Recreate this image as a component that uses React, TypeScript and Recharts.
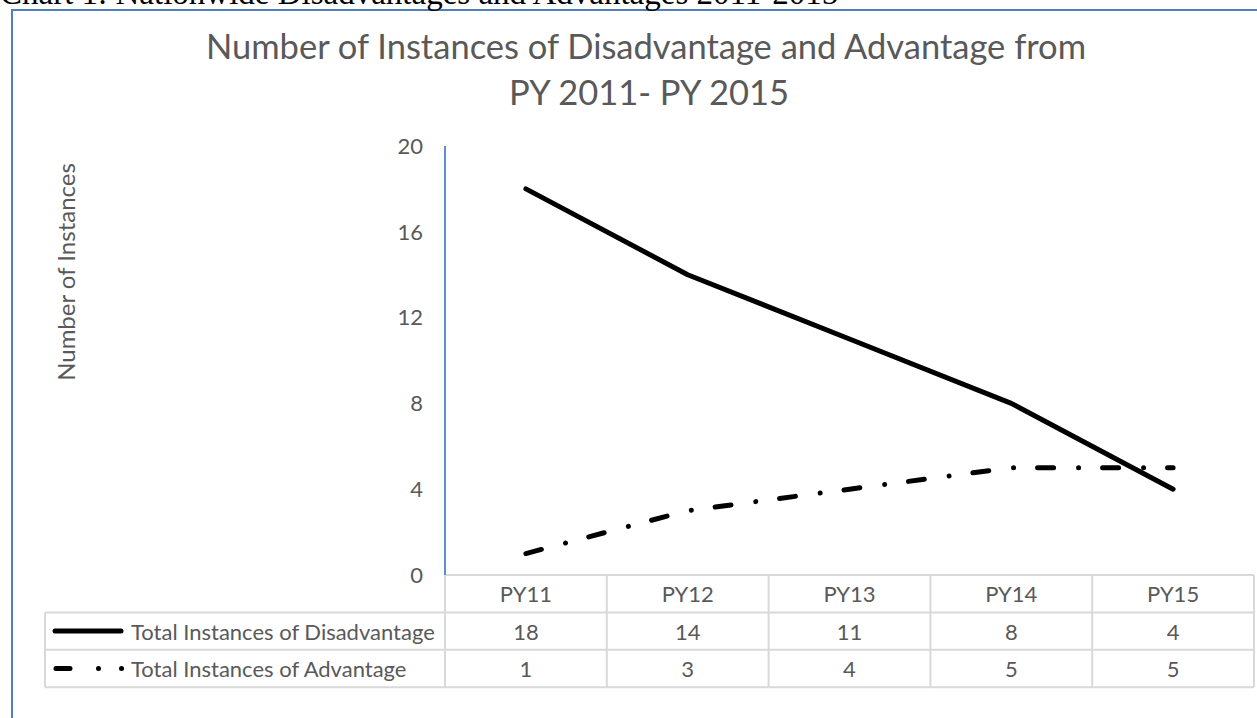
import { LineChart, Line, XAxis, YAxis } from "recharts";

const CATEGORIES = ["PY11", "PY12", "PY13", "PY14", "PY15"];
const DISADVANTAGE = [18, 14, 11, 8, 4];
const ADVANTAGE = [1, 3, 4, 5, 5];
const Y_TICKS = [0, 4, 8, 12, 16, 20];
const SERIES_NAMES = ["Total Instances of Disadvantage", "Total Instances of Advantage"];

const data = CATEGORIES.map((name, i) => ({
  name,
  dis: DISADVANTAGE[i],
  adv: ADVANTAGE[i],
}));

const W = 1257;
const H = 718;
const PLOT_LEFT = 445;
const PLOT_RIGHT = 1254;
const PLOT_TOP = 146;
const PLOT_BOTTOM = 575;
const Y_W = 80;
const BAND = (PLOT_RIGHT - PLOT_LEFT) / CATEGORIES.length;
const ROW_H = 37.4;
const TABLE_LEFT = 45;

const GRID = "#d9d9d9";
const INK = "#595959";
const FRAME = "#4f81bd";
const FONT = "Lato, 'Open Sans', sans-serif";
const ADV_DASH = "16 25 0.01 24";

function TableTick(props: any) {
  const { x, y, payload, index } = props;
  const left = x - BAND / 2;
  const right = x + BAND / 2;
  const values = [DISADVANTAGE[index], ADVANTAGE[index]];
  const textProps = {
    fill: INK,
    fontSize: 22,
    fontFamily: FONT,
    textAnchor: "middle" as const,
    dominantBaseline: "central" as const,
  };
  return (
    <g>
      {[1, 2, 3].map((r) => (
        <line key={r} x1={left} x2={right} y1={y + r * ROW_H} y2={y + r * ROW_H} stroke={GRID} strokeWidth={2} />
      ))}
      <line x1={right} x2={right} y1={y} y2={y + 3 * ROW_H} stroke={GRID} strokeWidth={2} />
      {index === 0 && (
        <g>
          <line x1={left} x2={left} y1={y} y2={y + 3 * ROW_H} stroke={GRID} strokeWidth={2} />
          <line x1={TABLE_LEFT} x2={TABLE_LEFT} y1={y + ROW_H} y2={y + 3 * ROW_H} stroke={GRID} strokeWidth={2} />
          {[1, 2, 3].map((r) => (
            <line key={r} x1={TABLE_LEFT} x2={left} y1={y + r * ROW_H} y2={y + r * ROW_H} stroke={GRID} strokeWidth={2} />
          ))}
          <line
            x1={TABLE_LEFT + 10}
            x2={TABLE_LEFT + 76}
            y1={y + 1.5 * ROW_H}
            y2={y + 1.5 * ROW_H}
            stroke="#000"
            strokeWidth={5}
            strokeLinecap="round"
          />
          <line
            x1={TABLE_LEFT + 11}
            x2={TABLE_LEFT + 78}
            y1={y + 2.5 * ROW_H}
            y2={y + 2.5 * ROW_H}
            stroke="#000"
            strokeWidth={5}
            strokeLinecap="round"
            strokeDasharray="14 28.5 0.01 23 0.01 200"
          />
          {SERIES_NAMES.map((s, i) => (
            <text key={s} {...textProps} textAnchor="start" x={TABLE_LEFT + 86} y={y + (1.5 + i) * ROW_H}>
              {s}
            </text>
          ))}
        </g>
      )}
      <text {...textProps} x={x} y={y + 0.5 * ROW_H}>
        {payload.value}
      </text>
      {values.map((v, i) => (
        <text key={i} {...textProps} x={x} y={y + (1.5 + i) * ROW_H}>
          {v}
        </text>
      ))}
    </g>
  );
}

export default function App() {
  return (
    <div
      style={{
        position: "absolute",
        left: 0,
        top: 0,
        width: W,
        height: H,
        overflow: "hidden",
        background: "#fff",
      }}
    >
      <div
        style={{
          position: "absolute",
          left: 11,
          top: 9,
          width: W,
          height: H,
          borderLeft: `2px solid ${FRAME}`,
          borderTop: `2px solid ${FRAME}`,
        }}
      />
      <svg width={W} height={H} style={{ position: "absolute", left: 0, top: 0 }}>
        <text x={0} y={4} fontFamily="'Liberation Serif', 'Times New Roman', serif" fontSize={33} fill="#000">
          Chart 1: Nationwide Disadvantages and Advantages 2011-2015
        </text>
        <text x={646} y={59} textAnchor="middle" fontFamily={FONT} fontSize={34.5} fill={INK}>
          Number of Instances of Disadvantage and Advantage from
        </text>
        <text x={649} y={105} textAnchor="middle" fontFamily={FONT} fontSize={34.5} fill={INK}>
          PY 2011- PY 2015
        </text>
        <text
          x={0}
          y={0}
          transform="translate(75 272) rotate(-90)"
          textAnchor="middle"
          fontFamily={FONT}
          fontSize={24}
          fill={INK}
        >
          Number of Instances
        </text>
      </svg>
      <div style={{ position: "absolute", left: 0, top: 0 }}>
        <LineChart
          width={W}
          height={H}
          data={data}
          margin={{ top: PLOT_TOP, right: W - PLOT_RIGHT, bottom: 0, left: PLOT_LEFT - Y_W }}
        >
          <XAxis
            dataKey="name"
            height={H - PLOT_BOTTOM}
            interval={0}
            padding={{ left: BAND / 2, right: BAND / 2 }}
            axisLine={{ stroke: GRID, strokeWidth: 2 }}
            tickLine={false}
            tickSize={0}
            tickMargin={0}
            tick={<TableTick />}
          />
          <YAxis
            width={Y_W}
            domain={[0, 20]}
            ticks={Y_TICKS}
            interval={0}
            axisLine={{ stroke: "#5b8fd0", strokeWidth: 2 }}
            tickLine={false}
            tickSize={0}
            tickMargin={22}
            tick={{ fill: INK, fontSize: 22, fontFamily: FONT }}
          />
          <Line
            type="linear"
            dataKey="dis"
            stroke="#000"
            strokeWidth={5}
            strokeLinecap="round"
            strokeLinejoin="round"
            dot={false}
            activeDot={false}
            isAnimationActive={false}
          />
          <Line
            type="linear"
            dataKey="adv"
            stroke="#000"
            strokeWidth={5}
            strokeLinecap="round"
            strokeLinejoin="round"
            strokeDasharray={ADV_DASH}
            dot={false}
            activeDot={false}
            isAnimationActive={false}
          />
        </LineChart>
      </div>
    </div>
  );
}
